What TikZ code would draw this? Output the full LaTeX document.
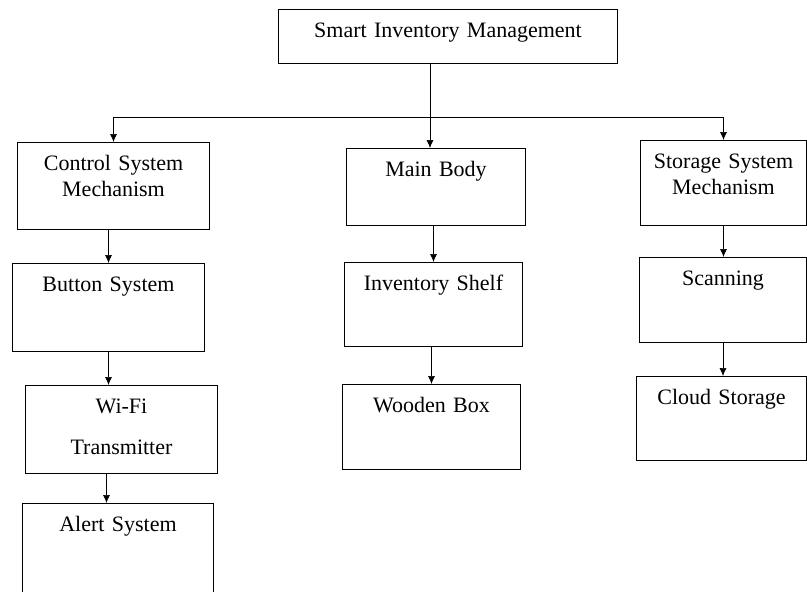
\documentclass[tikz,border=0pt]{standalone}
\usepackage{fontspec}
\setmainfont{Liberation Serif}
\usetikzlibrary{arrows.meta, positioning}
\tikzstyle{block} = [rectangle, draw=black, line width=1pt, inner sep=0pt, align=center, text height=28pt, anchor=north west]
\tikzstyle{arrow} = [line width=0.7pt, -{Latex[length=8pt,width=7pt]}]
\tikzstyle{link} = [line width=0.7pt]

\begin{document}
\begin{tikzpicture}[x=1pt, y=-1pt, font=\fontsize{22}{26}\selectfont]
		\useasboundingbox (0,0) rectangle (807,592);
		\node (top) [block, text width=339pt, text depth=26pt] at (278,9) {Smart Inventory Management};
		% left branch
		\node (ctrl) [block, text width=192pt, text depth=59pt] at (17,142) {Control System\\Mechanism};
		\node (btn) [block, text width=192pt, text depth=60pt] at (12,263) {Button System};
		\node (wifi) [block, text width=192pt, text depth=60pt] at (25,385) {Wi-Fi\\[15pt]Transmitter};
		\node (alert) [block, text width=191pt, text depth=65pt] at (22,503) {Alert System};
		% middle branch
		\node (main) [block, text width=179pt, text depth=49pt] at (346,148) {Main Body};
		\node (shelf) [block, text width=178pt, text depth=56pt] at (344,262) {Inventory Shelf};
		\node (wooden) [block, text width=178pt, text depth=57pt] at (342,384) {Wooden Box};
		% right branch
		\node (storage) [block, text width=166pt, text depth=57pt] at (640,140) {Storage System\\Mechanism};
		\node (scan) [block, text width=167pt, text depth=57pt] at (639,257) {Scanning};
		\node (cloud) [block, text width=170pt, text depth=56pt] at (636,376) {Cloud Storage};
		\coordinate (split) at (430,117);
		\draw [link] (split |- top.south) -- (split);
		\draw [arrow] (split) -| (ctrl.north);
		\draw [arrow] (split) -| (storage.north);
		\draw [arrow] (split) -- (split |- main.north);
		\draw [arrow] (btn.north |- ctrl.south) -- (btn.north);
		\draw [arrow] (btn.south) -- (btn.south |- wifi.north);
		\draw [arrow] ([xshift=-15pt]wifi.south) -- ([xshift=-15pt]wifi.south |- alert.north);
		\draw [arrow] (shelf.north |- main.south) -- (shelf.north);
		\draw [arrow] (wooden.north |- shelf.south) -- (wooden.north);
		\draw [arrow] (storage.south) -- (storage.south |- scan.north);
		\draw [arrow] (scan.south) -- (scan.south |- cloud.north);
	\end{tikzpicture}
\end{document}
